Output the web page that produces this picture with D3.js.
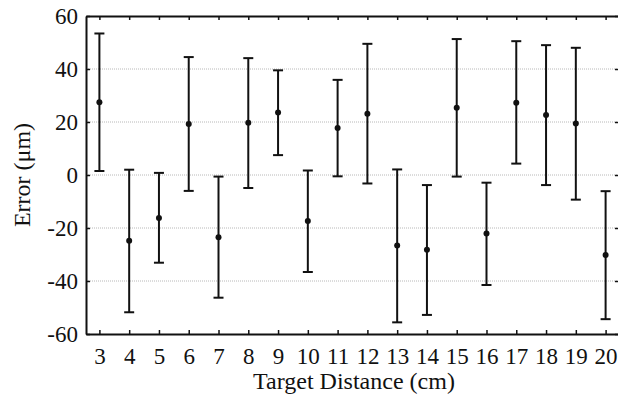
<!DOCTYPE html>
<html>
<head>
<meta charset="utf-8">
<script src="https://cdn.jsdelivr.net/npm/d3@7"></script>
<style>
  body { margin: 0; background: #fff; }
  text { font-family: "Liberation Serif", "Times New Roman", serif; fill: #111; }
</style>
</head>
<body>
<svg id="chart" width="618" height="402"></svg>
<script>
/** Target distances (cm) */
var distances = [3, 4, 5, 6, 7, 8, 9, 10, 11, 12, 13, 14, 15, 16, 17, 18, 19, 20];

/** Mean error (um) and bar ends */
var means = [27.5, -24.8, -16.2, 19.2, -23.5, 19.7, 23.6, -17.4, 17.7, 23.1, -26.6, -28.2, 25.4, -22.1, 27.3, 22.6, 19.4, -30.2];
var uppers = [53.4, 2.0, 0.8, 44.5, -0.6, 44.1, 39.5, 1.7, 35.9, 49.5, 2.1, -3.8, 51.3, -2.9, 50.5, 49.0, 48.0, -6.1];
var lowers = [1.5, -51.8, -33.1, -6.0, -46.3, -4.9, 7.5, -36.6, -0.5, -3.2, -55.6, -52.8, -0.6, -41.5, 4.3, -3.8, -9.3, -54.4];

var yTicks = [-60, -40, -20, 0, 20, 40, 60];
var gridValues = [-40, -20, 0, 20, 40];

var margin = {left: 86, right: -1, top: 16, bottom: 68},
    width = 618 - margin.left - margin.right,
    height = 402 - margin.top - margin.bottom;

var serif = "'Liberation Serif', 'Times New Roman', serif";

var svg = d3.select("#chart");
var g = svg.append("g").attr("transform", "translate(" + margin.left + "," + margin.top + ")");

var x = d3.scaleLinear().domain([2.55, 20.45]).range([0, width]);
var y = d3.scaleLinear().domain([-60, 60]).range([height, 0]);

// grid
g.selectAll(".grid").data(gridValues).enter().append("line")
  .attr("x1", 0).attr("x2", width)
  .attr("y1", function(d){ return y(d); }).attr("y2", function(d){ return y(d); })
  .attr("stroke", "#b8b8b8").attr("stroke-width", 1).attr("stroke-dasharray", "1,1");

// axes, ticks pointing inward; plain hyphen for negatives
var fmt = function(d){ return String(d); };
var xAxis = d3.axisBottom(x).tickValues(distances).tickFormat(fmt).tickSizeInner(-4).tickSizeOuter(0).tickPadding(14);
var yAxis = d3.axisLeft(y).tickValues(yTicks).tickFormat(fmt).tickSizeInner(-4).tickSizeOuter(0).tickPadding(8);

var gx = g.append("g").attr("transform", "translate(0," + height + ")").call(xAxis);
var gy = g.append("g").call(yAxis);
var gt = g.append("g").call(d3.axisTop(x).tickValues(distances).tickSizeInner(-4).tickSizeOuter(0).tickFormat(""));
var gr = g.append("g").attr("transform", "translate(" + width + ",0)")
  .call(d3.axisRight(y).tickValues(yTicks).tickSizeInner(-4).tickSizeOuter(0).tickFormat(""));

[gx, gy, gt, gr].forEach(function(a){
  a.attr("font-family", serif).attr("font-size", 23);
  a.select(".domain").attr("stroke", "#111").attr("stroke-width", 2);
  a.selectAll(".tick line").attr("stroke", "#111").attr("stroke-width", 1.5);
  a.selectAll(".tick text").attr("fill", "#111");
});

// error bars
var bars = g.selectAll(".bar").data(distances).enter().append("g");
bars.append("line")
  .attr("x1", function(d){ return x(d); }).attr("x2", function(d){ return x(d); })
  .attr("y1", function(d, i){ return y(uppers[i]); }).attr("y2", function(d, i){ return y(lowers[i]); })
  .attr("stroke", "#111").attr("stroke-width", 2);
bars.append("line")
  .attr("x1", function(d){ return x(d) - 5; }).attr("x2", function(d){ return x(d) + 5; })
  .attr("y1", function(d, i){ return y(uppers[i]); }).attr("y2", function(d, i){ return y(uppers[i]); })
  .attr("stroke", "#111").attr("stroke-width", 2);
bars.append("line")
  .attr("x1", function(d){ return x(d) - 5; }).attr("x2", function(d){ return x(d) + 5; })
  .attr("y1", function(d, i){ return y(lowers[i]); }).attr("y2", function(d, i){ return y(lowers[i]); })
  .attr("stroke", "#111").attr("stroke-width", 2);
bars.append("circle")
  .attr("cx", function(d){ return x(d); })
  .attr("cy", function(d, i){ return y(means[i]); })
  .attr("r", 3).attr("fill", "#111");

// axis titles
svg.append("text").attr("x", 354).attr("y", 389)
  .attr("text-anchor", "middle").style("font-size", "24px").text("Target Distance (cm)");
svg.append("text").attr("transform", "translate(30," + (margin.top + y(0)) + ") rotate(-90)")
  .attr("text-anchor", "middle").style("font-size", "24px").text("Error (μm)");
</script>
</body>
</html>
